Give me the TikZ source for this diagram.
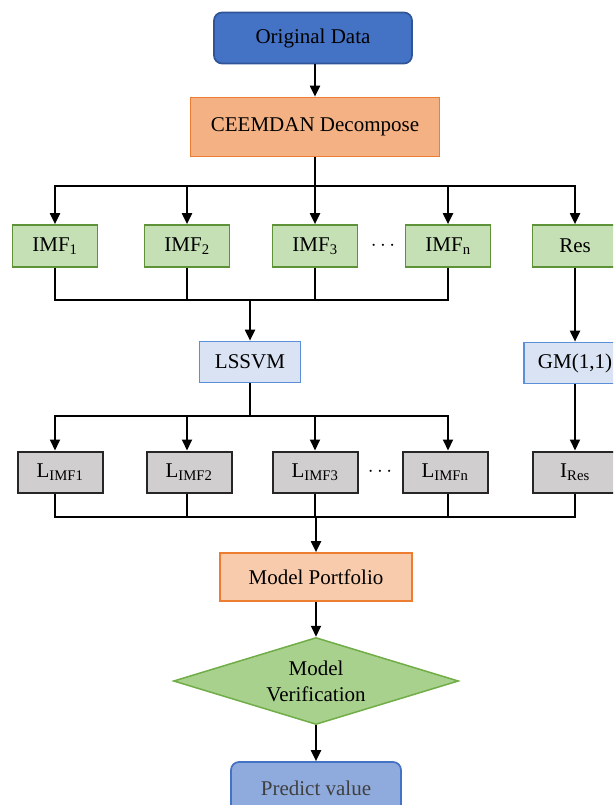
\documentclass[tikz,border=0pt]{standalone}
\usepackage{fontspec}
\setmainfont{Liberation Serif}
\usetikzlibrary{arrows.meta,shapes.geometric}
\definecolor{origfill}{HTML}{4472C4}
\definecolor{origedge}{HTML}{2F5597}
\definecolor{decofill}{HTML}{F4B183}
\definecolor{decoedge}{HTML}{ED7D31}
\definecolor{imffill}{HTML}{C5E0B4}
\definecolor{imfedge}{HTML}{5E9238}
\definecolor{modfill}{HTML}{DAE3F3}
\definecolor{modedge}{HTML}{5B8FD9}
\definecolor{predfill}{HTML}{D0CECE}
\definecolor{portfill}{HTML}{F8CBAD}
\definecolor{verfill}{HTML}{A9D18E}
\definecolor{veredge}{HTML}{70AD47}
\definecolor{outfill}{HTML}{8FAADC}
\definecolor{outtext}{HTML}{404040}

\begin{document}
\begin{tikzpicture}[x=1pt,y=-1pt,
  every node/.style={font=\fontsize{21}{26}\selectfont,inner sep=0pt,align=center},
  box/.style={draw,line width=1.7pt,minimum height=42pt},
  imfbox/.style={box,draw=imfedge,fill=imffill,minimum width=85pt},
  modbox/.style={box,draw=modedge,fill=modfill,minimum height=41pt},
  predbox/.style={box,draw=black!85,fill=predfill,line width=2pt,minimum width=85pt,minimum height=41pt},
  link/.style={line width=2pt},
  bus/.style={link,line cap=rect},
  arr/.style={link,-{Triangle[length=11pt,width=10pt]}}]
\clip (0,0) rectangle (613,805);
\node[box,rounded corners=8pt,draw=origedge,fill=origfill,minimum width=198pt,minimum height=51pt] (orig) at (313,38) {Original Data};
\node[box,draw=decoedge,fill=decofill,minimum width=249pt,minimum height=59pt] (deco) at (315,127) {CEEMDAN Decompose};
\node[imfbox] (imf1) at (55,246) {IMF\textsubscript{1}};
\node[imfbox] (imf2) at (187,246) {IMF\textsubscript{2}};
\node[imfbox] (imf3) at (315,246) {IMF\textsubscript{3}};
\node[imfbox] (imfn) at (448,246) {IMF\textsubscript{n}};
\node[imfbox] (res) at (575,246) {Res};
\node (dotsa) at (383,246) {$\cdots$};
\node[modbox,minimum width=101pt] (lssvm) at (250,362) {LSSVM};
\node[modbox,minimum width=102pt] (gm) at (575,363) {GM(1,1)};
\node[predbox] (limf1) at (60,472) {L\textsubscript{IMF1}};
\node[predbox] (limf2) at (189,472) {L\textsubscript{IMF2}};
\node[predbox] (limf3) at (315,472) {L\textsubscript{IMF3}};
\node[predbox] (limfn) at (445,472) {L\textsubscript{IMFn}};
\node[predbox] (ires) at (575,472) {I\textsubscript{Res}};
\node (dotsb) at (380,472) {$\cdots$};
\node[box,draw=decoedge,fill=portfill,minimum width=192pt,minimum height=48pt] (port) at (316,577) {Model Portfolio};
\node[diamond,draw=veredge,fill=verfill,line width=1.5pt,aspect=3.3,minimum width=285pt,minimum height=87pt] (verif) at (316,681) {Model\\Verification};
\node[box,rounded corners=8pt,draw=origfill,fill=outfill,text=outtext,minimum width=170pt,minimum height=52pt] (pred) at (316,788) {Predict value};
\coordinate (busa) at (315,186);
\coordinate (busb) at (250,300);
\coordinate (busc) at (250,416);
\coordinate (busd) at (316,517);
\draw[arr] (orig.south -| deco) -- (deco.north);
\draw[link] (deco.south) -- (busa);
\draw[bus] (busa -| imf1) -- (busa -| res);
\foreach \n in {imf1,imf2,imf3,imfn,res} \draw[arr] (busa -| \n) -- (\n.north);
\foreach \n in {imf1,imf2,imf3,imfn} \draw[link] (\n.south) -- (\n |- busb);
\draw[bus] (busb -| imf1) -- (busb -| imfn);
\draw[arr] (busb) -- (lssvm.north);
\draw[arr] (res.south) -- (gm.north);
\draw[link] (lssvm.south) -- (busc);
\draw[bus] (busc -| imf1) -- (busc -| imfn);
\foreach \n/\m in {imf1/limf1,imf2/limf2,imf3/limf3,imfn/limfn} \draw[arr] (busc -| \n) -- (\n |- \m.north);
\draw[arr] (gm.south) -- (ires.north);
\foreach \n/\m in {imf1/limf1,imf2/limf2,imf3/limf3,imfn/limfn,res/ires} \draw[link] (\n |- \m.south) -- (\n |- busd);
\draw[bus] (busd -| imf1) -- (busd -| res);
\draw[arr] (busd -| port) -- (port.north);
\draw[arr] (port.south) -- (verif.north);
\draw[arr] (verif.south) -- (pred.north);
\end{tikzpicture}
\end{document}
